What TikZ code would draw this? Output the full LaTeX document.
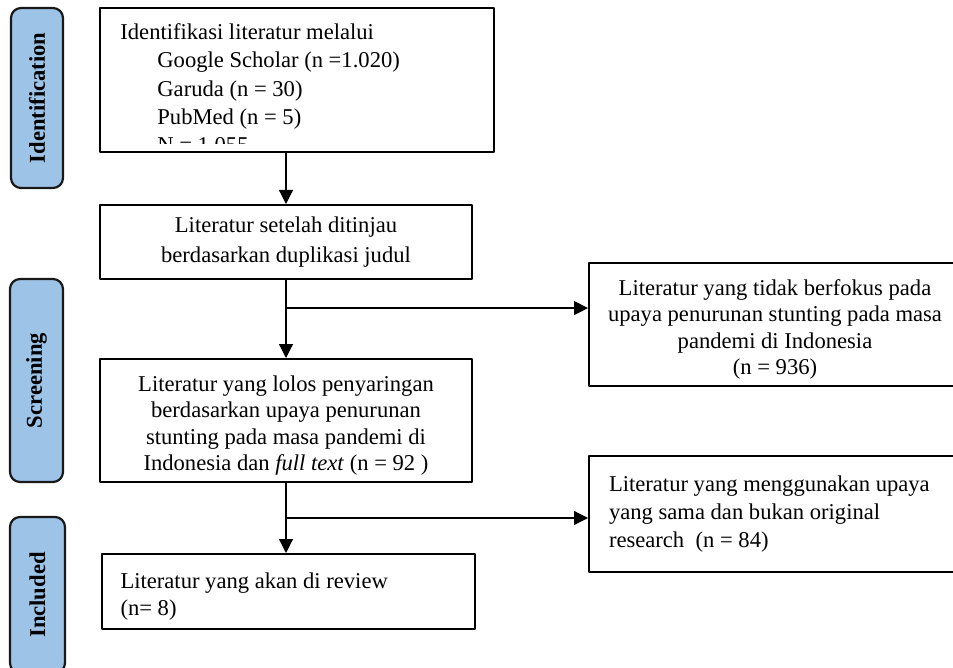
\documentclass[tikz,border=0pt]{standalone}
\usepackage{fontspec}
\setmainfont{Liberation Serif}
\usetikzlibrary{calc,arrows.meta}
\definecolor{tabblue}{HTML}{9DC3E6}
\def\ind{18.5pt}
\def\fs{11.3}

\begin{document}
\begin{tikzpicture}[x=0.5pt, y=-0.5pt, line cap = round, line join = round,
		box/.style={draw, line width=1pt, inner sep=0pt, align=center, font=\fontsize{\fs}{14.2}\selectfont},
		tight/.style={font=\fontsize{\fs}{13.1}\selectfont, execute at begin node={\rule{0pt}{13pt}}},
		stage/.style={draw=black!90, line width=1.1pt, fill=tabblue, rounded corners=5pt, rotate=90, inner sep=0pt, font=\fontsize{11.3}{13}\selectfont\bfseries},
		arrow/.style={line width=0.6pt, -{Triangle[length=7pt,width=7pt]}}]
		% Frame
		\useasboundingbox (0,0) rectangle (953,668);
		
		% Stages
		\node[stage, minimum width=90pt, minimum height=26pt] (ident) at (37,98) {Identification};
		\node[stage, minimum width=101.5pt, minimum height=26.5pt] (screen) at (36.5,380.5) {Screening};
		\node[stage, minimum width=78pt, minimum height=27.5pt] (incl) at (37.5,595) {Included};
		
		% Identification box
		\node[box, minimum width=197pt, minimum height=72pt] (lit) at (297,80) {};
		\coordinate (clipb) at (494,143.5);
		\begin{scope}
			\clip (lit.north west) rectangle (clipb);
			\node[anchor=north west, align=left, inner sep=0pt, font=\fontsize{\fs}{14.2}\selectfont] (littext) at (120,23)
				{Identifikasi literatur melalui\\
				 \hspace*{\ind}Google Scholar (n =1.020)\\
				 \hspace*{\ind}Garuda (n = 30)\\
				 \hspace*{\ind}PubMed (n = 5)\\
				 \hspace*{\ind}N = 1.055};
		\end{scope}
		
		% Main column
		\node[box, font=\fontsize{\fs}{15}\selectfont, minimum width=186pt, minimum height=37pt] (dup) at (286,242)
			{Literatur setelah ditinjau\\berdasarkan duplikasi judul};
		\node[box, tight, minimum width=186pt, minimum height=61.5pt, align=flush center, text width=184pt] (scr) at (286,420.5)
			{Literatur yang lolos penyaringan\\berdasarkan upaya penurunan\\stunting pada masa pandemi di\\Indonesia dan \textit{full text} (n = 92 )};
		\node[box, tight, minimum width=186.5pt, minimum height=37.5pt, align=flush left, text width=168pt] (rev) at (288.5,591.5)
			{Literatur yang akan di review\\(n= 8)};
		
		% Excluded
		\node[box, tight, minimum width=186pt, minimum height=61.5pt, align=flush center, text width=184pt] (excl1) at (775,324.5)
			{Literatur yang tidak berfokus pada\\upaya penurunan stunting pada masa\\pandemi di Indonesia\\(n = 936)};
		\node[box, minimum width=186pt, minimum height=58pt, align=flush left, text width=166pt] (excl2) at (775,514)
			{Literatur yang menggunakan upaya\\yang sama dan bukan original\\research\ \ (n = 84)};
		
		% Connectors
		\draw[arrow] (dup.north |- lit.south) -- (dup.north);
		\draw[arrow] (dup.south) -- (scr.north);
		\draw[arrow] (scr.south) -- (scr.south |- rev.north);
		\coordinate (br1) at ($(dup.south)!0.36!(scr.north)$);
		\coordinate (br2) at ($(scr.south)!0.5!(scr.south |- rev.north)$);
		\draw[arrow] (br1) -- (br1 -| excl1.west);
		\draw[arrow] (br2) -- (br2 -| excl2.west);
	\end{tikzpicture}
\end{document}
